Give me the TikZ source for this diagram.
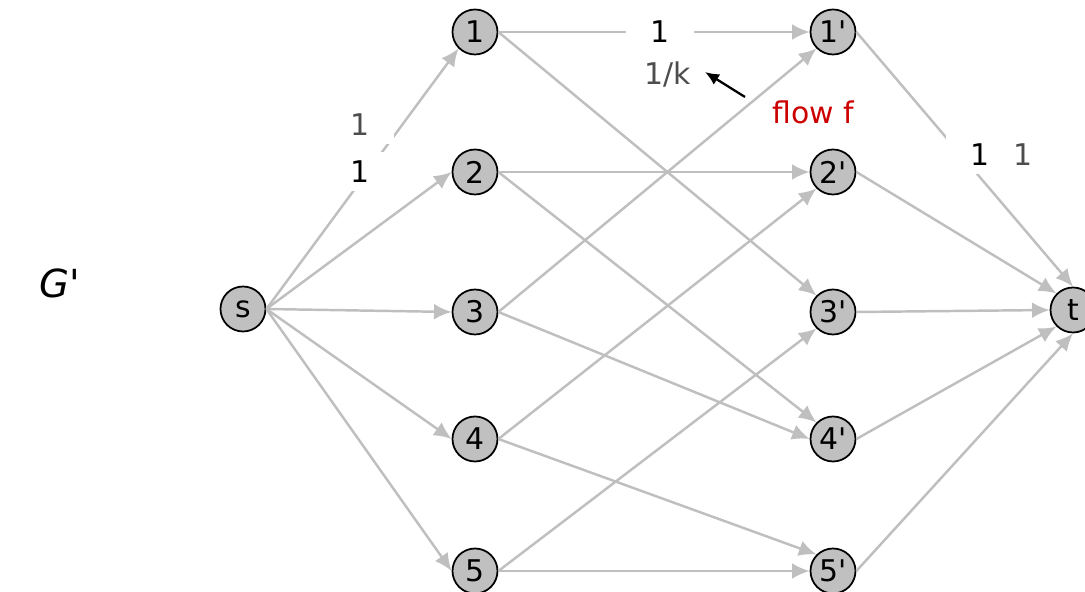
\documentclass[tikz,border=0pt]{standalone}
\usepackage{fontspec}
\setmainfont{DejaVu Sans}[Ligatures=TeXOff]
\usetikzlibrary{positioning,calc}
\usetikzlibrary{arrows.meta}

\definecolor{edgegray}{RGB}{191,191,191}
\definecolor{nodegray}{RGB}{192,192,192}
\definecolor{labgray}{RGB}{77,77,77}
\definecolor{flowred}{RGB}{204,0,0}

\begin{document}
\begin{tikzpicture}[%
         font=\fontsize{17}{20}\selectfont,
         vtx/.style = {circle,draw=black,line width=1pt,fill=nodegray,
            minimum size=0.9cm,inner sep=0pt},
         edge/.style = {draw=edgegray,line width=1.4pt,
            -{Latex[length=10pt,width=9pt]}},
         cap1/.style = {fill=white,minimum width=1.35cm,minimum height=0.78cm,
            inner sep=0pt},
         cap2/.style = {cap1,text=labgray}
]
   \useasboundingbox (0,0) rectangle (21.7,11.84);

   \node (gp) at (1.2,6.18) {\fontsize{22}{26}\selectfont\itshape G'};

   \node[vtx] (s) at (4.86,5.66) {s};
   \node[vtx] (n1) at (9.5,11.2) {1};
   \node[vtx] (n2) at (9.5,8.4) {2};
   \node[vtx] (n3) at (9.5,5.6) {3};
   \node[vtx] (n4) at (9.5,3.06) {4};
   \node[vtx] (n5) at (9.5,0.42) {5};
   \node[vtx] (m1) at (16.66,11.2) {1'};
   \node[vtx] (m2) at (16.66,8.4) {2'};
   \node[vtx] (m3) at (16.66,5.6) {3'};
   \node[vtx] (m4) at (16.66,3.06) {4'};
   \node[vtx] (m5) at (16.66,0.42) {5'};
   \node[vtx] (t) at (21.46,5.64) {t};

   % source side
   \draw[edge] (s.east) -- (n1.south west);
   \draw[edge] (s.east) -- (n2.west);
   \draw[edge] (s.east) -- (n3.west);
   \draw[edge] (s.east) -- (n4.west);
   \draw[edge] (s.east) -- (n5.west);

   % middle
   \draw[edge] (n1.east) -- (m1.west);
   \draw[edge] (n1.east) -- (m3.north west);
   \draw[edge] (n2.east) -- (m2.west);
   \draw[edge] (n2.east) -- (m4.north west);
   \draw[edge] (n3.east) -- (m1.south west);
   \draw[edge] (n3.east) -- (m4.west);
   \draw[edge] (n4.east) -- (m2.south west);
   \draw[edge] (n4.east) -- (m5.north west);
   \draw[edge] (n5.east) -- (m5.west);
   \draw[edge] (n5.east) -- (m3.south west);

   % sink side
   \draw[edge] (m1.east) -- (t.north);
   \draw[edge] (m2.east) -- (t.north west);
   \draw[edge] (m3.east) -- (t.west);
   \draw[edge] (m4.east) -- (t.south west);
   \draw[edge] (m5.east) -- (t.south);

   % capacities and flow
   \node[cap2] (c1) at (7.2,9.34) {1};
   \node[cap1] (f1) at (7.2,8.4) {1};
   \node[cap1] (f2) at (13.2,11.2) {1};
   \node[cap2] (c2) at (13.36,10.34) {1/k};
   \node[cap1] (f3) at (19.6,8.74) {1};
   \node[cap2] (c3) at (20.46,8.74) {1};
   \node[text=flowred] (fl) at (16.26,9.6) {flow f};

   \coordinate (fstart) at (14.9,9.9);
   \coordinate (ftip) at (14.1,10.4);
   \draw[line width=1.3pt,-{Latex[length=8pt,width=7pt]}] (fstart) -- (ftip);
\end{tikzpicture}
\end{document}
